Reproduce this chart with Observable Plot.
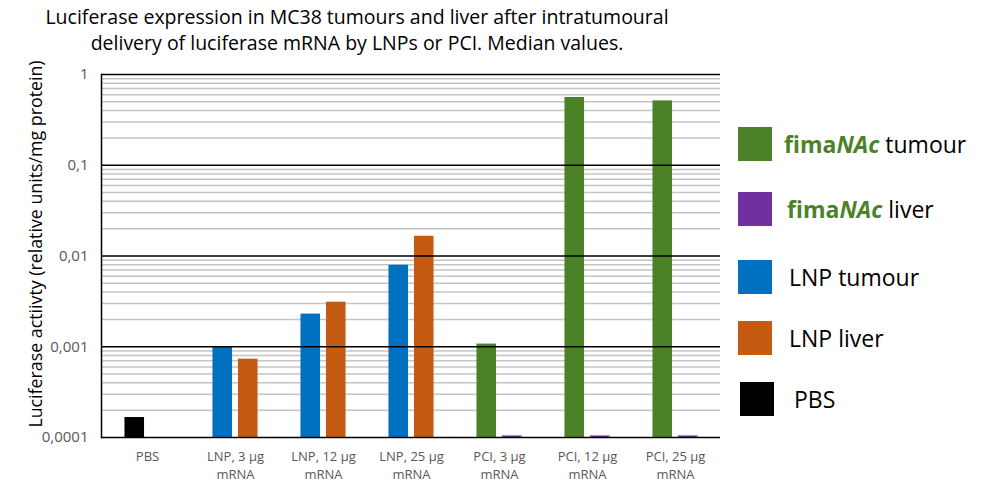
<!DOCTYPE html>
<html>
<head>
<meta charset="utf-8">
<script src="https://cdn.jsdelivr.net/npm/d3@7"></script>
<script src="https://cdn.jsdelivr.net/npm/@observablehq/plot@0.6"></script>
<style>
  html, body { margin: 0; padding: 0; background: #fff; }
  #wrap { position: relative; width: 994px; height: 484px; overflow: hidden; font-family: "Open Sans", sans-serif; }
  #title { position: absolute; left: 0; top: 4px; width: 714px; text-align: center; font-size: 19.5px; line-height: 26px; color: #000; white-space: nowrap; }
  #chart { position: absolute; left: 0; top: 60px; }
  #legend { position: absolute; left: 0; top: 0; }
  .lg-row { position: absolute; display: flex; align-items: center; }
  .lg-sw { width: 34px; height: 34px; }
  .lg-tx { font-size: 23px; color: #000; white-space: nowrap; }
  .fima { color: #4C8227; font-weight: bold; }
</style>
</head>
<body>
<div id="wrap">
  <div id="title">Luciferase expression in MC38 tumours and liver after intratumoural<br>delivery of luciferase mRNA by LNPs or PCI. Median values.</div>
  <div id="chart"></div>
  <div id="legend"></div>
</div>
<script>
// ---- data ----
const categories = ["PBS", "LNP, 3 µg mRNA", "LNP, 12 µg mRNA", "LNP, 25 µg mRNA", "PCI, 3 µg mRNA", "PCI, 12 µg mRNA", "PCI, 25 µg mRNA"];
const xTickLabels = ["PBS", "LNP, 3 µg\nmRNA", "LNP, 12 µg\nmRNA", "LNP, 25 µg\nmRNA", "PCI, 3 µg\nmRNA", "PCI, 12 µg\nmRNA", "PCI, 25 µg\nmRNA"];
const pbs        = [0.000166, null, null, null, null, null, null];
const lnpTumour  = [null, 0.00099, 0.00229, 0.0079, null, null, null];
const lnpLiver   = [null, 0.00073, 0.0031, 0.0165, null, null, null];
const fimaTumour = [null, null, null, null, 0.00107, 0.558, 0.512];
const fimaLiver  = [null, null, null, null, 0.000104, 0.000104, 0.000104];
const yTickValues = [0.0001, 0.001, 0.01, 0.1, 1];
const yTickLabels = ["0,0001", "0,001", "0,01", "0,1", "1"];
const seriesNames = ["fimaNAc tumour", "fimaNAc liver", "LNP tumour", "LNP liver", "PBS"];
const seriesColors = ["#4C8227", "#7030A0", "#0070C0", "#C55A11", "#000000"];
const yLabel = "Luciferase actiivty (relative units/mg protein)";

// build table
const seriesData = [
  {name: "PBS", values: pbs, slot: 0},
  {name: "LNP tumour", values: lnpTumour, slot: 0},
  {name: "LNP liver", values: lnpLiver, slot: 1},
  {name: "fimaNAc tumour", values: fimaTumour, slot: 0},
  {name: "fimaNAc liver", values: fimaLiver, slot: 1}
];
const rows = [];
for (const s of seriesData) {
  s.values.forEach((v, i) => { if (v != null) rows.push({category: categories[i], series: s.name, value: v, slot: s.slot}); });
}

const W = 730, H = 424, mL = 101, mR = 10;
const bw = (W - mL - mR) / categories.length;
const barW = 20, gap = 5.5;
const leftIn = bw / 2 - barW - gap / 2;
const rightIn = bw / 2 + gap / 2;

const minorTicks = d3.scaleLog().domain([1e-4, 1]).ticks().filter(t => !yTickValues.some(v => Math.abs(v - t) / v < 1e-9));

const chart = Plot.plot({
  width: W, height: H,
  marginLeft: mL, marginRight: mR, marginTop: 14, marginBottom: 47,
  style: {fontFamily: "Open Sans, sans-serif", background: "#fff", overflow: "visible"},
  x: {domain: categories, padding: 0},
  y: {type: "log", domain: [1e-4, 1]},
  color: {domain: seriesNames, range: seriesColors},
  marks: [
    Plot.ruleY(minorTicks, {stroke: "#c4c4c4", strokeWidth: 1.5}),
    Plot.barY(rows.filter(d => d.slot === 0), {x: "category", y1: 1e-4, y2: "value", fill: "series", insetLeft: leftIn, insetRight: rightIn}),
    Plot.barY(rows.filter(d => d.slot === 1), {x: "category", y1: 1e-4, y2: "value", fill: "series", insetLeft: rightIn, insetRight: leftIn}),
    Plot.ruleY(yTickValues, {stroke: "#000", strokeWidth: 1.5}),
    Plot.frame({anchor: "left", stroke: "#000", strokeWidth: 1.5}),
    Plot.axisY({ticks: yTickValues, tickSize: 0, tickPadding: 13, tickFormat: (d) => yTickLabels[yTickValues.indexOf(d)], fontSize: 15, color: "#595959", label: null}),
    Plot.axisX({tickSize: 0, tickPadding: 11, tickFormat: (d) => xTickLabels[categories.indexOf(d)], fontSize: 13, color: "#595959", label: null, lineHeight: 1.35}),
    Plot.text([yLabel], {frameAnchor: "left", textAnchor: "middle", rotate: -90, dx: -65, dy: -12, fontSize: 17.8, fill: "#000"})
  ]
});
document.getElementById("chart").appendChild(chart);

// legend
const legendTops = [127, 192, 260, 321, 382];
const legendSwX = [738, 738, 738, 738, 740];
const legendTxGap = [12, 15, 17, 17, 20];
const legend = document.getElementById("legend");
seriesNames.forEach((name, i) => {
  const row = document.createElement("div");
  row.className = "lg-row";
  row.style.left = legendSwX[i] + "px";
  row.style.top = legendTops[i] + "px";
  const sw = document.createElement("div");
  sw.className = "lg-sw";
  sw.style.background = seriesColors[i];
  const tx = document.createElement("div");
  tx.className = "lg-tx";
  tx.style.marginLeft = legendTxGap[i] + "px";
  if (name.startsWith("fimaNAc")) {
    tx.innerHTML = '<span class="fima">fima<i>NAc</i></span> ' + name.slice(8);
  } else {
    tx.textContent = name;
  }
  row.appendChild(sw);
  row.appendChild(tx);
  legend.appendChild(row);
});
</script>
</body>
</html>
